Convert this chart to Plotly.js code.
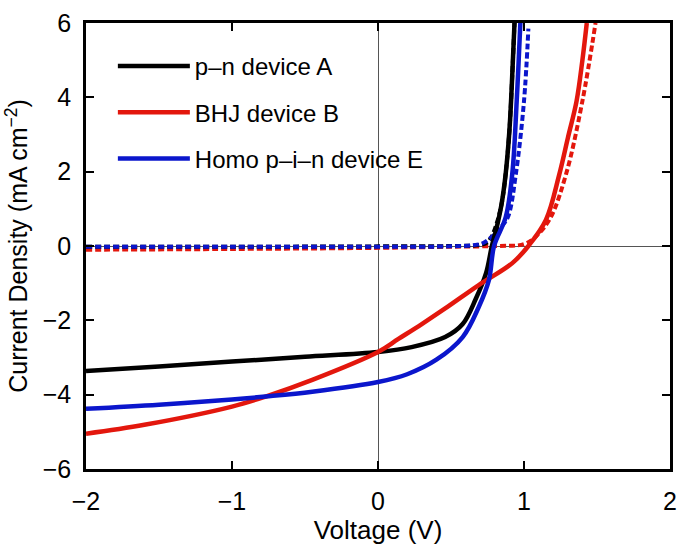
<!DOCTYPE html>
<html>
<head>
<meta charset="utf-8">
<script src="https://cdn.plot.ly/plotly-3.0.1.min.js"></script>
<style>
  body { margin: 0; background: #fff; }
  #chart { width: 685px; height: 555px; }
</style>
</head>
<body>
<div id="chart"></div>
<script>
// J-V curves (V in volts, J in mA cm^-2)
// light = solid lines, dark = dashed lines

var vA = [-2, -1.5, -1, -0.5, 0, 0.23, 0.46, 0.58, 0.67, 0.74, 0.78, 0.81, 0.845, 0.875, 0.9, 0.915, 0.935];
var jA = [-3.36, -3.24, -3.11, -2.98, -2.85, -2.72, -2.45, -2.1, -1.42, -0.73, 0, 0.45, 1.1, 1.96, 3.1, 4.2, 6];
var vAdark = [-2, -1, 0, 0.5, 0.7, 0.75, 0.77, 0.79, 0.82, 0.85, 0.875, 0.9, 0.915, 0.935];
var jAdark = [-0.02, -0.02, -0.01, 0, 0.03, 0.1, 0.2, 0.35, 0.7, 1.2, 1.96, 3.1, 4.2, 6];

var vB = [-2, -1.6, -1, -0.77, -0.45, 0, 0.14, 0.3, 0.46, 0.69, 0.92, 1.03, 1.15, 1.24, 1.3, 1.36, 1.4, 1.43];
var jB = [-5.05, -4.81, -4.32, -4.05, -3.6, -2.85, -2.5, -2.1, -1.68, -1.05, -0.46, 0, 0.7, 1.9, 2.9, 3.9, 5.0, 6];
var vBdark = [-2, -1, 0, 0.5, 0.8, 1.0, 1.08, 1.18, 1.29, 1.4, 1.49];
var jBdark = [-0.1, -0.08, -0.05, -0.02, 0, 0.05, 0.25, 0.75, 1.96, 3.9, 6];

var vE = [-2, -1.5, -1, -0.77, -0.45, 0, 0.2, 0.4, 0.58, 0.69, 0.76, 0.795, 0.875, 0.92, 0.95, 0.975];
var jE = [-4.38, -4.27, -4.13, -4.05, -3.92, -3.66, -3.45, -3.06, -2.45, -1.64, -0.91, 0, 0.78, 1.96, 3.9, 6];
var vEdark = [-2, -1, 0, 0.5, 0.65, 0.72, 0.78, 0.84, 0.89, 0.945, 1.0, 1.03];
var jEdark = [-0.02, -0.02, -0.02, -0.01, 0.02, 0.08, 0.25, 0.5, 0.78, 1.96, 3.9, 5.85];

var names = ["p\u2013n device A", "BHJ device B", "Homo p\u2013i\u2013n device E"];
var colors = ["#000000", "#e3170d", "#0b16cc"];

var dashStyle = "6px,3px";

var data = [
  {x: vBdark, y: jBdark, mode: "lines", line: {color: colors[1], width: 4, dash: dashStyle, shape: "spline"}, showlegend: false},
  {x: vAdark, y: jAdark, mode: "lines", line: {color: colors[0], width: 4, dash: dashStyle, shape: "spline"}, showlegend: false},
  {x: vEdark, y: jEdark, mode: "lines", line: {color: colors[2], width: 4, dash: dashStyle, shape: "spline"}, showlegend: false},
  {x: vA, y: jA, name: names[0], legendgroup: "a", mode: "lines", line: {color: colors[0], width: 4.5, shape: "spline"}},
  {x: vB, y: jB, name: names[1], legendgroup: "b", mode: "lines", line: {color: colors[1], width: 4.5, shape: "spline"}},
  {x: vE, y: jE, name: names[2], legendgroup: "e", mode: "lines", line: {color: colors[2], width: 4.5, shape: "spline"}}
];

var layout = {
  width: 685,
  height: 555,
  margin: {l: 86, r: 15, t: 23, b: 86},
  paper_bgcolor: "#fff",
  plot_bgcolor: "#fff",
  font: {family: "Arial, 'Liberation Sans', sans-serif", color: "#000", size: 24},
  showlegend: true,
  legend: {
    x: 0.046, y: 0.953, xanchor: "left", yanchor: "top",
    bgcolor: "rgba(0,0,0,0)",
    font: {size: 24},
    traceorder: "grouped",
    tracegroupgap: 12,
    itemwidth: 72
  },
  xaxis: {
    range: [-2, 2],
    tickvals: [-2, -1, 0, 1, 2],
    ticks: "inside", ticklen: 8, tickwidth: 2, tickcolor: "#000",
    showline: true, linewidth: 2.5, linecolor: "#000", mirror: "ticks",
    showgrid: false, zeroline: true, zerolinecolor: "#555", zerolinewidth: 1,
    tickfont: {size: 25},
    ticklabelstandoff: 8,
    title: {text: "Voltage (V)", font: {size: 26}, standoff: 4}
  },
  yaxis: {
    range: [-6, 6],
    tickvals: [-6, -4, -2, 0, 2, 4, 6],
    ticks: "inside", ticklen: 8, tickwidth: 2, tickcolor: "#000",
    showline: true, linewidth: 2.5, linecolor: "#000", mirror: "ticks",
    showgrid: false, zeroline: true, zerolinecolor: "#555", zerolinewidth: 1,
    tickfont: {size: 25},
    ticklabelstandoff: 7,
    title: {text: "Current Density (mA cm<sup>\u22122</sup>)", font: {size: 25}, standoff: 8}
  }
};

Plotly.newPlot("chart", data, layout, {displayModeBar: false});
</script>
</body>
</html>
